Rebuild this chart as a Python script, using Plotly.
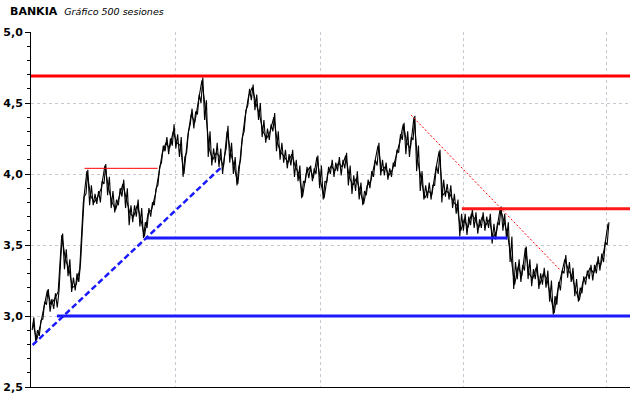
import plotly.graph_objects as go

# Price series sampled every 3 sessions (session index = 3*k): close, high, low
price = [
    2.95, 2.83, 2.93, 3.05, 3.18, 3.08, 3.12, 3.17, 3.57, 3.40,
    3.33, 3.20, 3.22, 3.33, 3.80, 4.02, 3.85, 3.80, 3.84, 3.90,
    4.06, 3.90, 3.80, 3.75, 3.85, 3.93, 3.82, 3.72, 3.70, 3.78,
    3.68, 3.56, 3.72, 3.75, 3.85, 4.00, 4.15, 4.22, 4.18, 4.30,
    4.22, 4.20, 4.00, 4.25, 4.42, 4.36, 4.50, 4.66, 4.45, 4.18,
    4.10, 4.15, 4.12, 4.05, 4.30, 4.15, 4.05, 3.93, 4.20, 4.40,
    4.55, 4.61, 4.50, 4.42, 4.30, 4.25, 4.30, 4.40, 4.22, 4.15,
    4.12, 4.08, 4.14, 4.05, 4.00, 3.84, 4.00, 4.05, 3.97, 4.12,
    3.95, 3.83, 4.00, 4.06, 4.02, 4.08, 4.05, 4.13, 3.98, 3.92,
    3.97, 3.88, 3.79, 3.92, 3.95, 4.07, 4.20, 4.02, 4.05, 3.99,
    4.03, 4.12, 4.22, 4.35, 4.22, 4.18, 4.40, 4.10, 3.95, 3.83,
    3.88, 3.86, 4.02, 4.16, 3.85, 3.88, 3.86, 3.80, 3.78, 3.60,
    3.68, 3.62, 3.72, 3.68, 3.62, 3.70, 3.64, 3.68, 3.55, 3.60,
    3.76, 3.66, 3.58, 3.42, 3.22, 3.35, 3.28, 3.48, 3.30, 3.26,
    3.34, 3.22, 3.30, 3.26, 3.15, 3.02, 3.18, 3.28, 3.40, 3.32,
    3.28, 3.18, 3.11, 3.24, 3.28, 3.34, 3.30, 3.38, 3.36, 3.48,
    3.65,
]
high = [
    2.99, 2.90, 2.97, 3.10, 3.19, 3.12, 3.16, 3.18, 3.58, 3.47,
    3.40, 3.27, 3.30, 3.38, 3.84, 4.03, 3.92, 3.86, 3.88, 3.95,
    4.07, 3.98, 3.88, 3.82, 3.90, 3.96, 3.90, 3.78, 3.78, 3.82,
    3.76, 3.66, 3.76, 3.80, 3.90, 4.05, 4.20, 4.26, 4.25, 4.35,
    4.28, 4.26, 4.12, 4.30, 4.46, 4.44, 4.56, 4.68, 4.52, 4.30,
    4.18, 4.22, 4.18, 4.12, 4.34, 4.22, 4.12, 4.05, 4.26, 4.45,
    4.60, 4.63, 4.56, 4.50, 4.38, 4.32, 4.35, 4.43, 4.30, 4.22,
    4.17, 4.14, 4.17, 4.10, 4.06, 3.95, 4.05, 4.06, 4.04, 4.13,
    4.06, 3.95, 4.05, 4.10, 4.08, 4.12, 4.10, 4.15, 4.06, 3.99,
    4.02, 3.94, 3.88, 3.96, 4.02, 4.10, 4.22, 4.10, 4.08, 4.04,
    4.08, 4.17, 4.28, 4.36, 4.30, 4.26, 4.41, 4.20, 4.02, 3.92,
    3.94, 3.92, 4.06, 4.17, 3.96, 3.93, 3.92, 3.86, 3.82, 3.72,
    3.72, 3.70, 3.75, 3.73, 3.68, 3.73, 3.70, 3.72, 3.65, 3.66,
    3.77, 3.72, 3.66, 3.56, 3.38, 3.40, 3.36, 3.49, 3.40, 3.33,
    3.37, 3.30, 3.34, 3.32, 3.25, 3.14, 3.24, 3.32, 3.43, 3.38,
    3.34, 3.26, 3.20, 3.28, 3.32, 3.36, 3.36, 3.42, 3.44, 3.52,
    3.66,
]
low = [
    2.90, 2.82, 2.86, 2.98, 3.08, 3.03, 3.05, 3.06, 3.42, 3.33,
    3.28, 3.17, 3.18, 3.24, 3.62, 3.86, 3.78, 3.78, 3.79, 3.80,
    3.93, 3.85, 3.76, 3.73, 3.78, 3.84, 3.76, 3.64, 3.66, 3.70,
    3.63, 3.55, 3.62, 3.70, 3.78, 3.92, 4.08, 4.16, 4.14, 4.20,
    4.18, 4.12, 3.98, 4.15, 4.35, 4.32, 4.42, 4.50, 4.38, 4.12,
    4.06, 4.08, 4.05, 4.00, 4.18, 4.08, 4.00, 3.92, 4.10, 4.30,
    4.48, 4.52, 4.45, 4.38, 4.26, 4.22, 4.24, 4.30, 4.16, 4.10,
    4.08, 4.04, 4.06, 3.98, 3.95, 3.83, 3.94, 3.97, 3.95, 4.00,
    3.90, 3.82, 3.94, 4.00, 3.98, 4.02, 3.99, 4.04, 3.92, 3.86,
    3.88, 3.82, 3.78, 3.85, 3.90, 3.98, 4.06, 3.99, 3.99, 3.96,
    3.98, 4.05, 4.15, 4.24, 4.14, 4.12, 4.24, 4.02, 3.88, 3.82,
    3.83, 3.82, 3.92, 4.00, 3.80, 3.84, 3.82, 3.76, 3.72, 3.56,
    3.60, 3.57, 3.64, 3.62, 3.58, 3.62, 3.60, 3.62, 3.51, 3.54,
    3.64, 3.60, 3.54, 3.38, 3.19, 3.26, 3.24, 3.32, 3.26, 3.21,
    3.26, 3.19, 3.22, 3.20, 3.10, 3.01, 3.08, 3.18, 3.30, 3.27,
    3.24, 3.14, 3.10, 3.16, 3.22, 3.26, 3.25, 3.30, 3.32, 3.38,
    3.50,
]
sessions = [3 * k for k in range(len(price))]

x_range = [-1.67, 498.33]
grid_sessions = [119, 240, 359, 479]
y_ticks = [2.5, 3.0, 3.5, 4.0, 4.5, 5.0]

# Support / resistance levels (level, start session, end session)
red_thick = (4.69, x_range[0], x_range[1])
red_thin = (4.04, 43, 104)
red_mid = (3.755, 358, x_range[1])
blue_mid = (3.55, 94, 396)
blue_low = (3.0, 20, x_range[1])
# Trend lines (start session, start value, end session, end value)
red_trend = (315.6, 4.415, 440, 3.324)
blue_trend = (-0.3, 2.796, 157.5, 4.05)

fig = go.Figure()

# high-low bars drawn as one jagged path (low, high) per sample, plus close line
zx, zy = [], []
for s, lo, hi in zip(sessions, low, high):
    zx += [s - 0.75, s + 0.75]
    zy += [lo, hi]
fig.add_trace(go.Scatter(x=zx, y=zy, mode="lines",
                         line=dict(color="black", width=1.1), hoverinfo="skip"))
fig.add_trace(go.Scatter(x=sessions, y=price, mode="lines",
                         line=dict(color="black", width=1.1), hoverinfo="skip"))

def hline(spec, color, width, dash="solid"):
    lvl, x0, x1 = spec
    fig.add_trace(go.Scatter(x=[x0, x1], y=[lvl, lvl], mode="lines",
                             line=dict(color=color, width=width, dash=dash)))

def tline(spec, color, width, dash):
    x0, y0, x1, y1 = spec
    fig.add_trace(go.Scatter(x=[x0, x1], y=[y0, y1], mode="lines",
                             line=dict(color=color, width=width, dash=dash)))

hline(red_thick, "#ff0000", 3.2)
hline(red_thin, "#ff0000", 1)
hline(red_mid, "#ff1a1a", 3)
hline(blue_mid, "#1a1aff", 3)
hline(blue_low, "#1a1aff", 3)
tline(red_trend, "#ff0000", 1, "2px,2px")
tline(blue_trend, "#1a1aff", 2.5, "6px,3px")

fig.update_layout(
    width=640, height=398,
    margin=dict(l=31, r=10, t=32, b=11, autoexpand=False),
    paper_bgcolor="white", plot_bgcolor="white",
    showlegend=False,
    separators=",.",
    title=dict(
        text="<b>BANKIA</b>&nbsp;&nbsp;<i><span style='font-size:9.5px'>Gráfico 500 sesiones</span></i>",
        x=10 / 640, xref="container", xanchor="left",
        y=1 - 11 / 398, yref="container", yanchor="middle",
        font=dict(family="DejaVu Sans", size=11, color="black"),
    ),
    xaxis=dict(
        range=x_range, showline=True, linecolor="black", linewidth=1,
        tickvals=grid_sessions, showticklabels=False, ticks="",
        showgrid=True, gridcolor="#c8c8d2", griddash="dot", gridwidth=1,
        zeroline=False, fixedrange=True, automargin=False,
    ),
    yaxis=dict(
        range=[2.5, 5.0], tickvals=y_ticks, tickformat=".1f",
        showline=True, linecolor="black", linewidth=1,
        ticks="outside", ticklen=5, tickcolor="black", tickwidth=1,
        minor=dict(dtick=0.1, ticks="outside", ticklen=3, tickcolor="black", showgrid=False),
        showgrid=True, gridcolor="#c8c8d2", griddash="dot", gridwidth=1,
        tickfont=dict(family="DejaVu Sans", size=11, color="black", weight="bold"),
        zeroline=False, fixedrange=True, automargin=False,
    ),
)

fig.write_html("out.html")
